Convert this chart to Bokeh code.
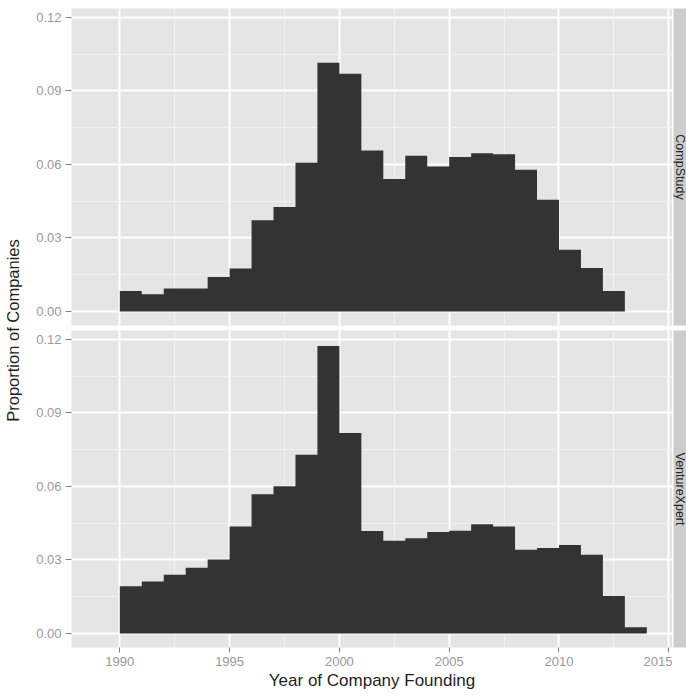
from math import pi
from bokeh.plotting import figure
from bokeh.layouts import row, column
from bokeh.models import FixedTicker, PrintfTickFormatter, Label
from bokeh.embed import file_html
from bokeh.resources import INLINE

# ---- data ----
comp_years = list(range(1990, 2013))
comp_study = [0.0084, 0.0070, 0.0094, 0.0094, 0.0141, 0.0175, 0.0372, 0.0426,
              0.0607, 0.1015, 0.0970, 0.0657, 0.0541, 0.0635, 0.0592, 0.0630,
              0.0646, 0.0641, 0.0578, 0.0456, 0.0252, 0.0178, 0.0084]
vx_years = list(range(1990, 2014))
venture_xpert = [0.0193, 0.0212, 0.0240, 0.0268, 0.0302, 0.0437, 0.0568, 0.0601,
                 0.0729, 0.1173, 0.0818, 0.0418, 0.0378, 0.0389, 0.0414, 0.0419,
                 0.0446, 0.0437, 0.0342, 0.0349, 0.0361, 0.0321, 0.0153, 0.0026]
bin_width = 1
x_ticks = [1990, 1995, 2000, 2005, 2010, 2015]
x_minor = [1992.5, 1997.5, 2002.5, 2007.5, 2012.5]
y_ticks = [0.00, 0.03, 0.06, 0.09, 0.12]
y_minor = [0.015, 0.045, 0.075, 0.105]
panel_labels = ["CompStudy", "VentureXpert"]
x_title = "Year of Company Founding"
y_title = "Proportion of Companies"

FONT = "Liberation Sans"
X_RANGE = (1987.8, 2015.17)
Y_RANGE = (-0.0057, 0.1236)
BAR = "#333333"


def make_panel(years, vals, height, top_border, bottom_border, show_x):
    p = figure(width=642, height=height, x_range=X_RANGE, y_range=Y_RANGE,
               output_backend="svg", toolbar_location=None,
               x_axis_location="below" if show_x else None,
               min_border=0, min_border_left=41, min_border_right=0,
               min_border_top=top_border, min_border_bottom=bottom_border)
    p.background_fill_color = "#e5e5e5"
    p.border_fill_color = "white"
    p.outline_line_color = None

    p.xgrid.ticker = FixedTicker(ticks=x_ticks, minor_ticks=x_minor)
    p.ygrid.ticker = FixedTicker(ticks=y_ticks, minor_ticks=y_minor)
    for g in (p.xgrid, p.ygrid):
        g.grid_line_color = "white"
        g.grid_line_width = 2
        g.minor_grid_line_color = "#f2f2f2"
        g.minor_grid_line_width = 1

    p.yaxis.ticker = FixedTicker(ticks=y_ticks)
    p.yaxis.formatter = PrintfTickFormatter(format="%.2f")
    axes = list(p.yaxis)
    if show_x:
        p.xaxis.ticker = FixedTicker(ticks=x_ticks)
        p.xaxis.formatter = PrintfTickFormatter(format="%d")
        p.xaxis.axis_label = x_title
        p.xaxis.axis_label_text_font = FONT
        p.xaxis.axis_label_text_font_size = "17px"
        p.xaxis.axis_label_text_font_style = "normal"
        p.xaxis.axis_label_text_color = "#1f1f1f"
        p.xaxis.axis_label_standoff = 2
        p.xaxis.major_label_standoff = 4
        axes += list(p.xaxis)
    for ax in axes:
        ax.axis_line_color = None
        ax.major_tick_line_color = "#7f7f7f"
        ax.major_tick_line_width = 1
        ax.major_tick_in = 0
        ax.major_tick_out = 5
        ax.minor_tick_line_color = None
        ax.major_label_text_font = FONT
        ax.major_label_text_font_size = "13px"
        ax.major_label_text_color = "#999999"
    p.yaxis.major_tick_out = 6
    p.yaxis.major_label_standoff = 4

    # histogram drawn as one seamless step area (bins of width 1 year)
    edges = list(years) + [years[-1] + bin_width]
    heights = list(vals) + [vals[-1]]
    p.varea_step(x=edges, y1=0, y2=heights, step_mode="after",
                 fill_color=BAR)
    return p


def make_strip(label, height, top_border, bottom_border):
    s = figure(width=14, height=height, x_range=(0, 13), y_range=(0, 1),
               output_backend="svg", toolbar_location=None,
               x_axis_location=None, y_axis_location=None,
               min_border=0, min_border_left=1, min_border_right=0,
               min_border_top=top_border, min_border_bottom=bottom_border)
    s.grid.visible = False
    s.background_fill_color = "#cccccc"
    s.border_fill_color = "white"
    s.outline_line_color = None
    s.add_layout(Label(x=6.3, y=0.5, text=label, angle=-pi / 2,
                       text_align="center", text_baseline="middle",
                       text_font=FONT, text_font_size="12.5px",
                       text_color="#262626"))
    return s


top = make_panel(comp_years, comp_study, 330, 8, 5, False)
bottom = make_panel(vx_years, venture_xpert, 366, 0, 49, True)
strip_top = make_strip(panel_labels[0], 330, 8, 5)
strip_bottom = make_strip(panel_labels[1], 366, 0, 49)

ylab = figure(width=30, height=696, x_range=(0, 30), y_range=(0, 696),
              output_backend="svg", toolbar_location=None,
              x_axis_location=None, y_axis_location=None, min_border=0)
ylab.grid.visible = False
ylab.outline_line_color = None
ylab.background_fill_color = "white"
ylab.border_fill_color = "white"
ylab.add_layout(Label(x=12.5, y=366, text=y_title, angle=pi / 2,
                      text_align="center", text_baseline="alphabetic",
                      text_font=FONT, text_font_size="16.5px",
                      text_color="#1f1f1f"))

layout = row(ylab, column(row(top, strip_top), row(bottom, strip_bottom)))

open("out.html", "w").write(file_html(layout, INLINE))
